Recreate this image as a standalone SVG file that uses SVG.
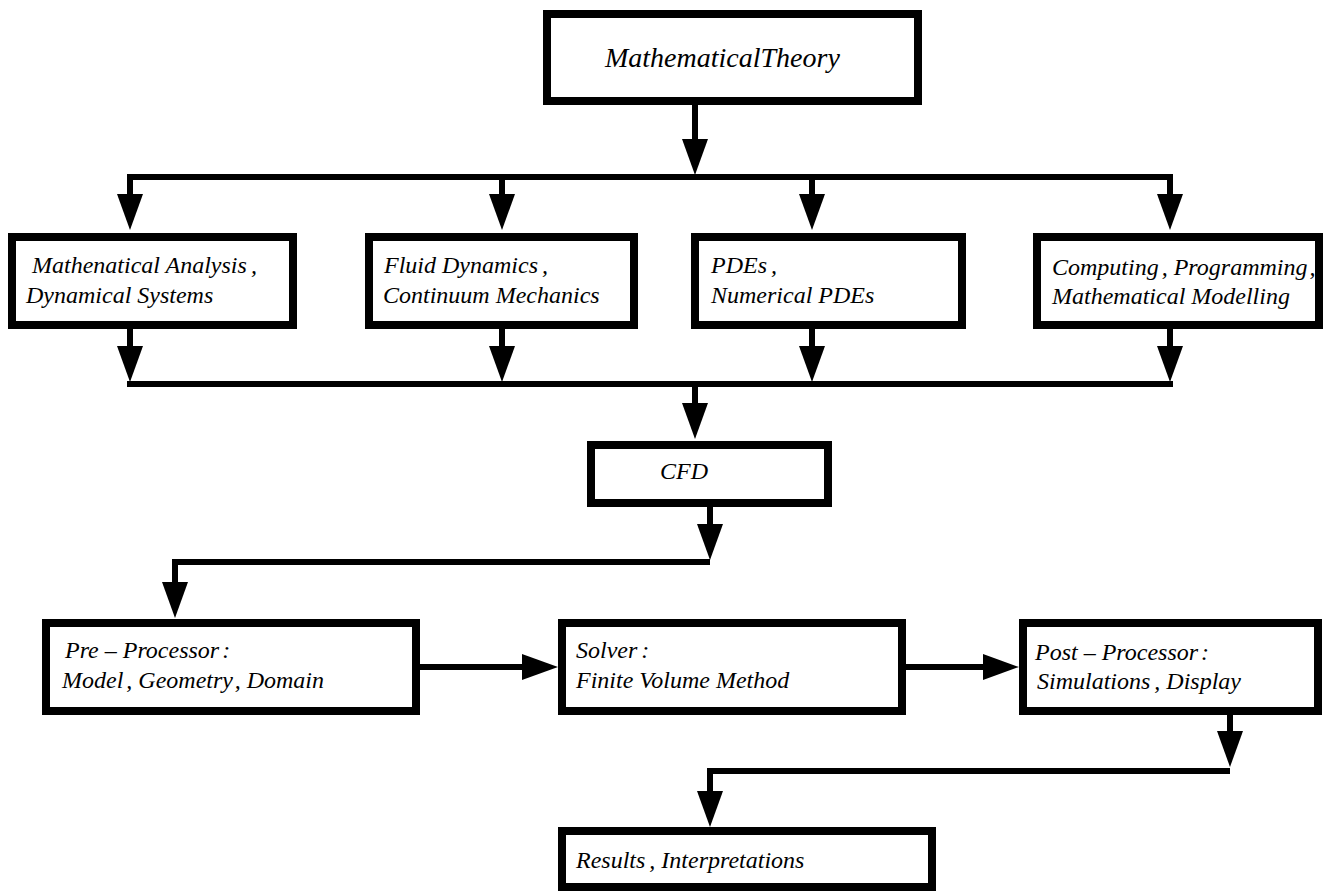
<svg xmlns="http://www.w3.org/2000/svg" width="1331" height="892" viewBox="0 0 1331 892">
<style>
.box{fill:#fff;stroke:#000;stroke-width:8;stroke-linejoin:miter}
.t{font-family:"Liberation Serif","Times New Roman",serif;font-style:italic;font-size:24px;fill:#000}
.big{font-size:28px}
.c{fill:none;stroke:#000;stroke-width:6;stroke-linejoin:miter}
.bus{fill:none;stroke:#000;stroke-width:6;stroke-linecap:square}
</style>
<defs>
<marker id="ah" viewBox="0 0 36 26" refX="14" refY="13" markerWidth="36" markerHeight="26" markerUnits="userSpaceOnUse" orient="auto">
<path d="M0,0 L36,13 L0,26 Z" fill="#000"/>
</marker>
</defs>
<rect width="1331" height="892" fill="#fff"/>
<g id="connectors">
<path class="c" d="M695,105 V153" marker-end="url(#ah)"/>
<path class="bus" d="M130,177 H1170"/>
<path class="c" d="M130,177 V208" marker-end="url(#ah)"/>
<path class="c" d="M502,177 V208" marker-end="url(#ah)"/>
<path class="c" d="M812,177 V208" marker-end="url(#ah)"/>
<path class="c" d="M1170,177 V208" marker-end="url(#ah)"/>
<path class="c" d="M130,329 V360" marker-end="url(#ah)"/>
<path class="c" d="M502,329 V360" marker-end="url(#ah)"/>
<path class="c" d="M812,329 V360" marker-end="url(#ah)"/>
<path class="c" d="M1170,329 V360" marker-end="url(#ah)"/>
<path class="bus" d="M130,384 H1170"/>
<path class="c" d="M695,384 V417" marker-end="url(#ah)"/>
<path class="c" d="M710,507 V538" marker-end="url(#ah)"/>
<path class="c" d="M710,562 H175 V596" marker-end="url(#ah)"/>
<path class="c" d="M420,667 H536" marker-end="url(#ah)"/>
<path class="c" d="M906,667 H997" marker-end="url(#ah)"/>
<path class="c" d="M1230,715 V745" marker-end="url(#ah)"/>
<path class="c" d="M1230,771 H710 V805" marker-end="url(#ah)"/>
</g>
<g id="n-theory">
<rect class="box" x="547" y="14" width="371" height="87"/>
<text class="t big" x="605" y="67">MathematicalTheory</text>
</g>
<g id="n-analysis">
<rect class="box" x="12" y="237" width="281" height="88"/>
<text class="t" x="32" y="273">Mathenatical Analysis<tspan dx="4">,</tspan></text>
<text class="t" x="26" y="303">Dynamical Systems</text>
</g>
<g id="n-fluid">
<rect class="box" x="369" y="237" width="265" height="88"/>
<text class="t" x="384" y="273">Fluid Dynamics<tspan dx="4">,</tspan></text>
<text class="t" x="383" y="303">Continuum Mechanics</text>
</g>
<g id="n-pdes">
<rect class="box" x="695" y="237" width="267" height="88"/>
<text class="t" x="711" y="273">PDEs<tspan dx="4">,</tspan></text>
<text class="t" x="711" y="303">Numerical PDEs</text>
</g>
<g id="n-computing">
<rect class="box" x="1037" y="237" width="282" height="88"/>
<text class="t" x="1052" y="275">Computing<tspan dx="3">,</tspan> Programming<tspan dx="2">,</tspan></text>
<text class="t" x="1052" y="304">Mathematical Modelling</text>
</g>
<g id="n-cfd">
<rect class="box" x="591" y="445" width="237" height="58"/>
<text class="t" x="660" y="479">CFD</text>
</g>
<g id="n-pre">
<rect class="box" x="46" y="623" width="370" height="88"/>
<text class="t" x="65" y="658">Pre – Processor<tspan dx="3">:</tspan></text>
<text class="t" x="62" y="688">Model<tspan dx="3">,</tspan> Geometry<tspan dx="3">,</tspan> Domain</text>
</g>
<g id="n-solver">
<rect class="box" x="562" y="623" width="340" height="88"/>
<text class="t" x="576" y="658">Solver<tspan dx="4">:</tspan></text>
<text class="t" x="576" y="688">Finite Volume Method</text>
</g>
<g id="n-post">
<rect class="box" x="1023" y="623" width="295" height="88"/>
<text class="t" x="1035" y="660">Post – Processor<tspan dx="3">:</tspan></text>
<text class="t" x="1037" y="689">Simulations<tspan dx="4">,</tspan> Display</text>
</g>
<g id="n-results">
<rect class="box" x="562" y="831" width="370" height="56"/>
<text class="t" x="576" y="868">Results<tspan dx="4">,</tspan> Interpretations</text>
</g>
</svg>
